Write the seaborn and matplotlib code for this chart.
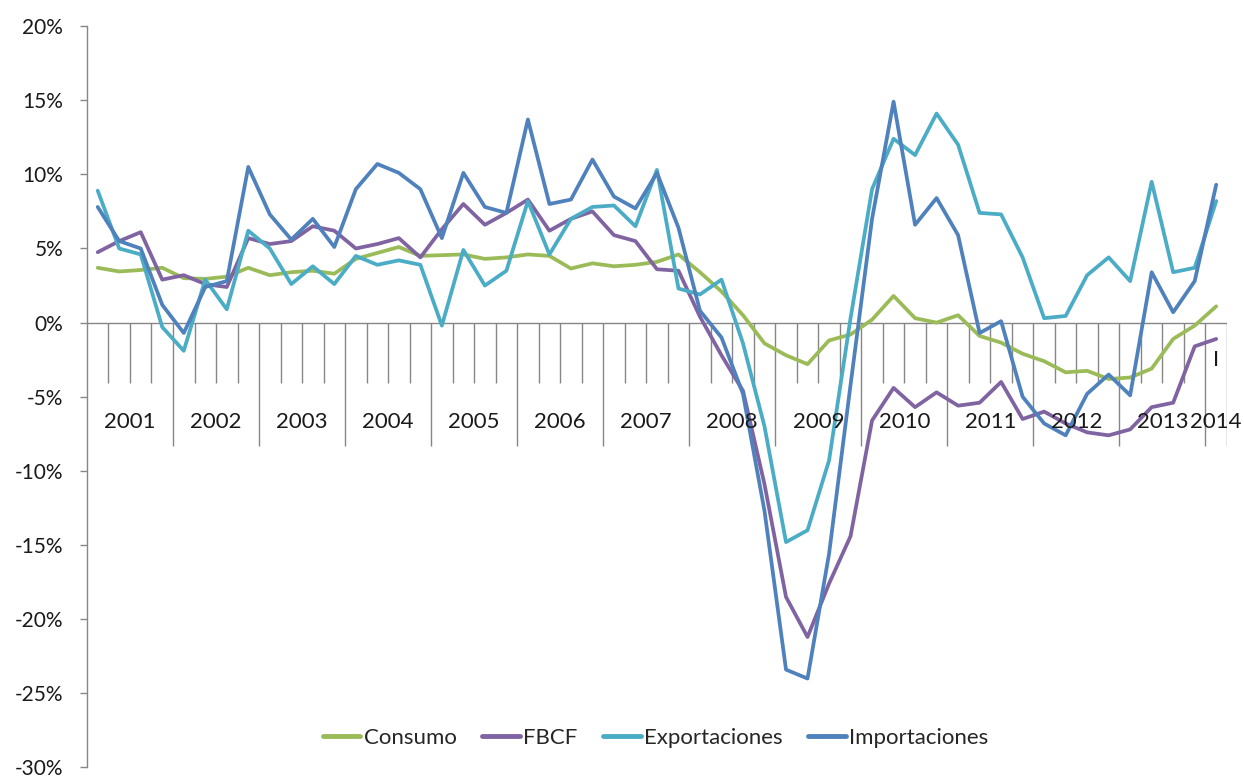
import numpy as np
import pandas as pd
import seaborn as sns
import matplotlib.pyplot as plt

# trimestres 2001T1 .. 2014T1
anios = ['2001', '2002', '2003', '2004', '2005', '2006', '2007',
         '2008', '2009', '2010', '2011', '2012', '2013', '2014']

consumo = [3.7, 3.45, 3.55, 3.7, 3.0, 2.95, 3.1, 3.7, 3.2, 3.4, 3.5, 3.3,
           4.3, 4.7, 5.1, 4.5, 4.55, 4.6, 4.3, 4.4, 4.6, 4.5, 3.65, 4.0,
           3.8, 3.9, 4.1, 4.6, 3.4, 2.1, 0.5, -1.4, -2.2, -2.8, -1.2, -0.8,
           0.2, 1.8, 0.3, 0.0, 0.5, -0.9, -1.35, -2.1, -2.6, -3.35, -3.25,
           -3.8, -3.7, -3.1, -1.1, -0.2, 1.1]
fbcf = [4.75, 5.5, 6.1, 2.9, 3.2, 2.6, 2.4, 5.7, 5.3, 5.5, 6.5, 6.2,
        5.0, 5.3, 5.7, 4.4, 6.3, 8.0, 6.6, 7.4, 8.3, 6.2, 7.0, 7.5,
        5.9, 5.5, 3.6, 3.5, 0.4, -2.2, -4.6, -10.9, -18.5, -21.2, -17.6,
        -14.4, -6.6, -4.4, -5.7, -4.7, -5.6, -5.4, -4.0, -6.5, -6.0, -6.8,
        -7.4, -7.6, -7.2, -5.7, -5.4, -1.6, -1.1]
exportaciones = [8.9, 5.0, 4.6, -0.3, -1.9, 2.9, 0.9, 6.2, 5.0, 2.6, 3.8, 2.6,
                 4.5, 3.9, 4.2, 3.9, -0.2, 4.9, 2.5, 3.5, 8.2, 4.6, 7.0, 7.8,
                 7.9, 6.5, 10.3, 2.3, 1.9, 2.9, -1.4, -7.0, -14.8, -14.0, -9.3,
                 0.3, 9.0, 12.4, 11.3, 14.1, 12.0, 7.4, 7.3, 4.4, 0.3, 0.45,
                 3.2, 4.4, 2.8, 9.5, 3.4, 3.7, 8.2]
importaciones = [7.8, 5.5, 5.0, 1.2, -0.7, 2.4, 2.8, 10.5, 7.3, 5.6, 7.0, 5.1,
                 9.0, 10.7, 10.1, 9.0, 5.7, 10.1, 7.8, 7.4, 13.7, 8.0, 8.3, 11.0,
                 8.5, 7.7, 10.1, 6.4, 0.8, -1.0, -4.8, -12.7, -23.4, -24.0, -15.6,
                 -4.2, 7.0, 14.9, 6.6, 8.4, 5.9, -0.7, 0.1, -5.0, -6.8, -7.6,
                 -4.8, -3.5, -4.9, 3.4, 0.7, 2.8, 9.3]

series = {'Consumo': consumo, 'FBCF': fbcf,
          'Exportaciones': exportaciones, 'Importaciones': importaciones}
colores = ['#9BBB59', '#8064A2', '#4BACC6', '#4F81BD']

n = len(consumo)
df = pd.DataFrame({'t': np.arange(n)})
for k, v in series.items():
    df[k] = v
largo = df.melt(id_vars='t', var_name='serie', value_name='valor')

sns.set_theme(style='white')
plt.rcParams['font.family'] = ['Lato', 'DejaVu Sans']
gris = '#868686'
negro = '#1a1a1a'

fig = plt.figure(figsize=(12.44, 7.78), dpi=100)
ax = fig.add_axes([0.0699, 0.0135, 0.9164, 0.9530])

sns.lineplot(data=largo, x='t', y='valor', hue='serie',
             hue_order=list(series.keys()), palette=colores,
             linewidth=2.7, ax=ax, legend=True)

ax.set_xlim(-0.5, n - 0.5)
ax.set_ylim(-30, 20)
ax.set_yticks(np.arange(-30, 21, 5))
ax.set_yticklabels([f'{v}%' for v in range(-30, 21, 5)], fontsize=15, color=negro)
ax.tick_params(axis='y', direction='out', length=5, width=1, color=gris, pad=12, left=True)
ax.set_xticks([])
ax.set_xlabel('')
ax.set_ylabel('')
for s in ['top', 'right', 'bottom']:
    ax.spines[s].set_visible(False)
ax.spines['left'].set_color(gris)
ax.spines['left'].set_linewidth(1)

# eje de categorias en 0
ax.axhline(0, color=gris, lw=1, zorder=1)
for k in range(1, n + 1):
    pos = k - 0.5
    if k % 4 == 0 or k == n:
        ax.vlines(pos, -8.3, 0, color=gris, lw=1, zorder=1)
    else:
        ax.vlines(pos, -4.1, 0, color=gris, lw=1, zorder=1)

for j, a in enumerate(anios):
    ini = 4 * j
    fin = min(4 * j + 3, n - 1)
    ax.text((ini + fin) / 2, -6.7, a, ha='center', va='center',
            fontsize=16, color=negro)
ax.text(n - 1, -2.5, 'I', ha='center', va='center', fontsize=16, color=negro)

handles, labels = ax.get_legend_handles_labels()
for h in handles:
    h.set_linewidth(3.5)
ax.legend(handles, labels, loc='center', bbox_to_anchor=(0.527, 0.0518),
          bbox_transform=fig.transFigure, ncol=4, frameon=False,
          fontsize=16, handlelength=1.7, handletextpad=0.15,
          columnspacing=1.15)

fig.savefig('out.png', dpi=100)
